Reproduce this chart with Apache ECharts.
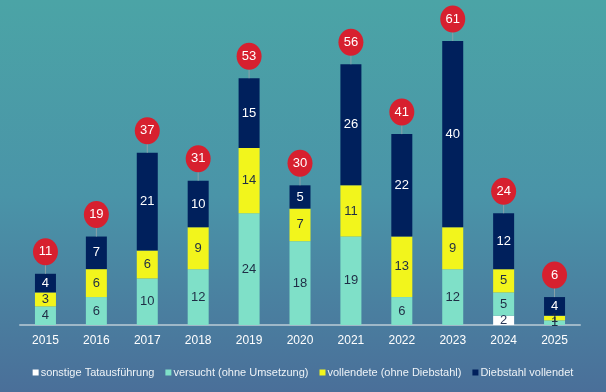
<!DOCTYPE html>
<html><head><meta charset="utf-8">
<script src="https://cdn.jsdelivr.net/npm/echarts@6/dist/echarts.min.js"></script>
<style>html,body{margin:0;padding:0;}#c{width:606px;height:392px;}</style>
</head><body><div id="c"></div>
<script>
var years = ['2015','2016','2017','2018','2019','2020','2021','2022','2023','2024','2025'];
var sonstige = [0,0,0,0,0,0,0,0,0,2,0];
var versucht = [4,6,10,12,24,18,19,6,12,5,1];
var vollendete = [3,6,6,9,14,7,11,13,9,5,1];
var diebstahl = [4,7,21,10,15,5,26,22,40,12,4];
var totals = [11,19,37,31,53,30,56,41,61,24,6];

var chart = echarts.init(document.getElementById('c'));
var font = 'Liberation Sans, Arial, sans-serif';
function lbl(color){
  return {show:true, position:'inside', color:color, fontSize:13, fontFamily:font,
    formatter:function(p){return p.value>0?p.value:'';}};
}
var BW = 21;
chart.setOption({
  backgroundColor: {type:'linear', x:0,y:0,x2:0,y2:1, colorStops:[
    {offset:0,color:'#4ba4a6'},{offset:0.5,color:'#4a94a8'},{offset:1,color:'#4a6f99'}]},
  animation:false,
  grid:{left:20, right:26, top:41, bottom:67},
  legend:{top:362, left:'center', width:600, icon:'rect', itemWidth:6, itemHeight:6, itemGap:11,
    textStyle:{color:'#eef3f7', fontSize:11, fontFamily:font, padding:[0,0,0,-3]},
    data:['sonstige Tatausführung','versucht (ohne Umsetzung)','vollendete (ohne Diebstahl)','Diebstahl vollendet']},
  xAxis:{type:'category', data:years,
    axisLine:{lineStyle:{color:'#9fb8c8', width:2}}, axisTick:{show:false},
    axisLabel:{color:'#ffffff', fontSize:12, fontFamily:font, margin:10}},
  yAxis:{type:'value', min:0, max:61, show:false, splitLine:{show:false}},
  series:[
    {name:'sonstige Tatausführung', type:'bar', stack:'a', barWidth:BW, data:sonstige,
      itemStyle:{color:'#ffffff'}, label:lbl('#2a3a5a')},
    {name:'versucht (ohne Umsetzung)', type:'bar', stack:'a', barWidth:BW, data:versucht,
      itemStyle:{color:'#7fe0c8'}, label:lbl('#1f2d45')},
    {name:'vollendete (ohne Diebstahl)', type:'bar', stack:'a', barWidth:BW, data:vollendete,
      itemStyle:{color:'#f2f51c'}, label:lbl('#1f2d45')},
    {name:'Diebstahl vollendet', type:'bar', stack:'a', barWidth:BW, data:diebstahl,
      itemStyle:{color:'#00205c'}, label:lbl('#ffffff')},
    {type:'custom', data:totals.map(function(t,i){return [i,t];}), z:10,
      renderItem:function(params, api){
        var p = api.coord([api.value(0), api.value(1)]);
        var cy = p[1]-22;
        return {type:'group', children:[
          {type:'line', shape:{x1:p[0],y1:cy,x2:p[0],y2:p[1]}, style:{stroke:'#8aa0a8', lineWidth:1}},
          {type:'ellipse', shape:{cx:p[0], cy:cy, rx:12.5, ry:13.5}, style:{fill:'#d7202f'}},
          {type:'text', style:{text:String(api.value(1)), x:p[0], y:cy, align:'center', verticalAlign:'middle',
            fill:'#ffffff', fontSize:13, fontFamily:font}}
        ]};
      }}
  ]
});
</script></body></html>
